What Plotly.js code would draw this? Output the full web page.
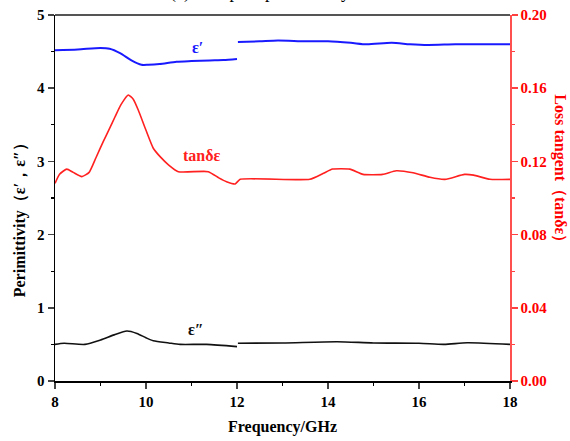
<!DOCTYPE html>
<html>
<head>
<meta charset="utf-8">
<script src="https://cdn.plot.ly/plotly-3.0.1.min.js"></script>
<style>html,body{margin:0;padding:0;background:#fff;}#chart{width:570px;height:441px;}</style>
</head>
<body>
<div id="chart"></div>
<script>
// ε' (real permittivity), two measured segments with a gap at 12 GHz
const epsRealFreq = [8.0, 8.5, 9.0, 9.2, 9.43, 9.68, 9.9, 10.05, 10.3, 10.67, 11.0, 11.4, 11.7, 12.0, null,
  12.02, 12.5, 12.9, 13.5, 14.0, 14.5, 14.85, 15.4, 15.8, 16.2, 16.8, 17.4, 18.0];
const epsReal = [4.52, 4.53, 4.55, 4.54, 4.48, 4.38, 4.32, 4.32, 4.33, 4.36, 4.37, 4.38, 4.385, 4.40, null,
  4.63, 4.64, 4.65, 4.64, 4.64, 4.62, 4.60, 4.62, 4.60, 4.59, 4.60, 4.60, 4.60];

// ε'' (imaginary permittivity)
const epsImagFreq = [8.0, 8.2, 8.66, 9.0, 9.3, 9.58, 9.8, 10.0, 10.16, 10.5, 10.75, 11.33, 12.0, null,
  12.02, 13.0, 14.2, 15.0, 16.0, 16.55, 17.06, 18.0];
const epsImag = [0.50, 0.515, 0.50, 0.56, 0.63, 0.683, 0.65, 0.59, 0.55, 0.52, 0.50, 0.50, 0.47, null,
  0.515, 0.52, 0.537, 0.52, 0.515, 0.50, 0.523, 0.50];

// tanδε (loss tangent)
const tanFreq = [8.0, 8.1, 8.26, 8.4, 8.59, 8.75, 8.9, 9.06, 9.2, 9.32, 9.45, 9.61, 9.72, 9.83, 10.0, 10.16, 10.31,
  10.5, 10.71, 11.37, 11.6, 11.77, 11.96, 12.07, 13.6, 13.9, 14.1, 14.48, 14.77, 15.2, 15.5, 15.87, 16.24,
  16.57, 17.0, 17.2, 17.56, 18.0];
const tanD = [0.108, 0.113, 0.1158, 0.114, 0.1117, 0.114, 0.122, 0.1308, 0.138, 0.1444, 0.151, 0.1563, 0.154, 0.1481,
  0.137, 0.1272, 0.1226, 0.118, 0.1144, 0.1144, 0.111, 0.1089, 0.1077, 0.1102, 0.1102, 0.1135, 0.1158, 0.1158,
  0.1129, 0.1129, 0.1149, 0.1138, 0.1113, 0.1102, 0.1129, 0.1125, 0.1102, 0.1102];

const xTicks = [8, 10, 12, 14, 16, 18];
const yTicks = [0, 1, 2, 3, 4, 5];
const y2Ticks = [0, 0.04, 0.08, 0.12, 0.16, 0.2];
const serif = '"Liberation Serif", serif';

const traces = [
  {x: epsRealFreq, y: epsReal, mode: 'lines', line: {color: '#1a1aff', width: 2, shape: 'spline', smoothing: 0.7}, connectgaps: false, yaxis: 'y', hoverinfo: 'skip'},
  {x: epsImagFreq, y: epsImag, mode: 'lines', line: {color: '#111111', width: 1.6, shape: 'spline', smoothing: 0.7}, connectgaps: false, yaxis: 'y', hoverinfo: 'skip'},
  {x: tanFreq, y: tanD, mode: 'lines', line: {color: '#ff2020', width: 1.6, shape: 'spline', smoothing: 0.5}, yaxis: 'y2', hoverinfo: 'skip'}
];

const layout = {
  width: 570, height: 441,
  margin: {l: 55, r: 60, t: 15, b: 60},
  paper_bgcolor: '#fff', plot_bgcolor: '#fff',
  showlegend: false,
  font: {family: serif, color: '#000'},
  xaxis: {
    range: [8, 18], tickvals: xTicks, ticktext: xTicks.map(v => '<b>' + v + '</b>'),
    ticks: 'outside', ticklen: 6, tickwidth: 1.5,
    showline: true, linecolor: '#000', linewidth: 1.5, mirror: false, showgrid: false, zeroline: false,
    tickfont: {family: serif, size: 15, color: '#000'},
    minor: {dtick: 1, ticks: 'outside', ticklen: 3, tickwidth: 1.2, tickcolor: '#000'},
    title: {text: '<b>Frequency/GHz</b>', font: {family: serif, size: 16, color: '#000'}, standoff: 12}
  },
  yaxis: {
    range: [0, 5], tickvals: yTicks, ticktext: yTicks.map(v => '<b>' + v + '</b>'),
    ticks: 'outside', ticklen: 6, tickwidth: 1.5,
    showline: true, linecolor: '#000', linewidth: 1.5, showgrid: false, zeroline: false,
    tickfont: {family: serif, size: 15, color: '#000'},
    minor: {dtick: 0.5, ticks: 'outside', ticklen: 3, tickwidth: 1.2, tickcolor: '#000'}
  },
  yaxis2: {
    overlaying: 'y', side: 'right', range: [0, 0.2],
    tickvals: y2Ticks, ticktext: y2Ticks.map(v => '<b>' + v.toFixed(2) + '</b>'),
    ticks: 'outside', ticklen: 6, tickwidth: 1.5, tickcolor: '#ff4040',
    showline: true, linecolor: '#ff5050', linewidth: 1.5, showgrid: false, zeroline: false,
    tickfont: {family: serif, size: 15, color: '#ff0000'},
    minor: {dtick: 0.02, ticks: 'outside', ticklen: 3, tickwidth: 1.2, tickcolor: '#ff4040'}
  },
  shapes: [
    {type: 'line', xref: 'paper', yref: 'paper', x0: 0, x1: 1, y0: 1, y1: 1, line: {color: '#555', width: 2}}
  ],
  annotations: [
    {xref: 'paper', yref: 'paper', x: 0.45, y: 1.027, yanchor: 'bottom', xanchor: 'center', showarrow: false,
     text: '(a) Complex permittivity', font: {family: serif, size: 18, color: '#000'}},
    {x: 11.14, y: 4.56, xref: 'x', yref: 'y', showarrow: false, text: '<b>ε′</b>', font: {family: serif, size: 16, color: '#1a1aff'}},
    {x: 11.23, y: 0.1235, xref: 'x', yref: 'y2', showarrow: false, text: '<b>tanδε</b>', font: {family: serif, size: 16, color: '#ff2020'}},
    {x: 11.1, y: 0.70, xref: 'x', yref: 'y', showarrow: false, text: '<b>ε″</b>', font: {family: serif, size: 16, color: '#111'}},
    {xref: 'paper', yref: 'paper', x: -0.077, y: 0.45, xanchor: 'center', yanchor: 'middle', showarrow: false, textangle: -90,
     text: '<b>Perimittivity（ε′，ε″）</b>', font: {family: serif, size: 16, color: '#000'}},
    {xref: 'paper', yref: 'paper', x: 1.11, y: 0.57, xanchor: 'center', yanchor: 'middle', showarrow: false, textangle: 90,
     text: '<b>Loss tangent（tanδε）</b>', font: {family: serif, size: 16, color: '#ff0000'}}
  ]
};

Plotly.newPlot('chart', traces, layout, {staticPlot: true, displayModeBar: false});
</script>
</body>
</html>
